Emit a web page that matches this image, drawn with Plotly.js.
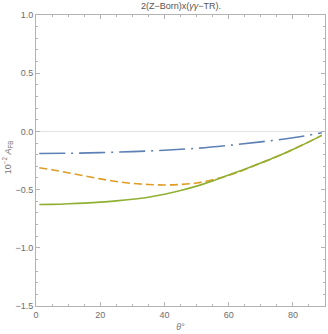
<!DOCTYPE html>
<html>
<head>
<meta charset="utf-8">
<script src="https://cdn.plot.ly/plotly-3.0.1.min.js"></script>
<style>
  html, body { margin: 0; padding: 0; background: #fff; }
  #chart { width: 328px; height: 334px; }
</style>
</head>
<body>
<div id="chart"></div>
<script>
// angle theta in degrees, values in units of 10^-2
const thetaGreen = [1, 5, 10, 15, 20, 25, 30, 35, 40, 45, 50, 55, 60, 65, 70, 75, 80, 85, 89];
const greenVals = [-0.628, -0.627, -0.622, -0.616, -0.608, -0.597, -0.583, -0.565, -0.540, -0.508,
                   -0.470, -0.425, -0.375, -0.325, -0.272, -0.216, -0.155, -0.090, -0.034];

const thetaOrange = [1, 5, 10, 15, 20, 25, 30, 35, 40, 45, 50, 55, 60, 63, 65, 70, 75, 80, 85, 89];
const orangeVals = [-0.312, -0.330, -0.355, -0.382, -0.408, -0.430, -0.447, -0.456, -0.460, -0.456,
                    -0.443, -0.415, -0.378, -0.350, -0.327, -0.272, -0.216, -0.155, -0.090, -0.034];

const thetaBlue = [1, 10, 20, 30, 40, 50, 60, 70, 80, 89];
const blueVals = [-0.190, -0.188, -0.182, -0.174, -0.162, -0.145, -0.120, -0.090, -0.055, -0.012];

const xTicks = [0, 20, 40, 60, 80];
const yTicks = [-1.5, -1.0, -0.5, 0.0, 0.5, 1.0];
const yTickText = ['\u22121.5', '\u22121.0', '\u22120.5', '0.0', '0.5', '1.0'];

const frameCol = '#b3b3b3';
const fontFam = 'Liberation Sans, Arial, sans-serif';
const labelFont = { family: fontFam, size: 9, color: '#6e6e6e' };

const traces = [
  { x: thetaBlue, y: blueVals, type: 'scatter', mode: 'lines', line: { color: '#5E81B5', width: 1.6, dash: '26px,6px,2px,6px', shape: 'spline' } },
  { x: thetaOrange, y: orangeVals, type: 'scatter', mode: 'lines', line: { color: '#E19C24', width: 1.6, dash: '8px,4px', shape: 'spline' } },
  { x: thetaGreen, y: greenVals, type: 'scatter', mode: 'lines', line: { color: '#8FB032', width: 1.6, shape: 'spline' } }
];

const axisCommon = {
  showgrid: false,
  showline: true,
  linecolor: frameCol,
  linewidth: 1,
  mirror: 'ticks',
  ticks: 'inside',
  ticklen: 4,
  tickcolor: frameCol,
  tickfont: labelFont
};

const layout = {
  width: 328,
  height: 334,
  margin: { l: 36, r: 3, t: 15, b: 28 },
  paper_bgcolor: '#fff',
  plot_bgcolor: '#fff',
  showlegend: false,
  title: {
    text: '2(Z\u2212Born)x(<i>\u03b3\u03b3</i>\u2212TR).',
    font: { family: fontFam, size: 9, color: '#555' },
    x: 0.552, xanchor: 'center', y: 0.992, yanchor: 'top'
  },
  xaxis: Object.assign({}, axisCommon, {
    range: [0, 90],
    tickvals: xTicks,
    zeroline: false,
    minor: { ticks: 'inside', ticklen: 2, tickcolor: frameCol, dtick: 5 },
    title: { text: '<i>\u03b8</i>\u00b0', font: { family: fontFam, size: 9, color: '#777' }, standoff: 4 }
  }),
  yaxis: Object.assign({}, axisCommon, {
    range: [-1.5, 1.0],
    tickvals: yTicks,
    ticktext: yTickText,
    zeroline: true,
    zerolinecolor: '#e2e2e2',
    zerolinewidth: 1,
    minor: { ticks: 'inside', ticklen: 2, tickcolor: frameCol, dtick: 0.1 }
  }),
  annotations: [{
    text: '10<sup>\u22122</sup> <i>A</i><sub>FB</sub>',
    xref: 'paper', yref: 'paper', x: -0.098, y: 0.51,
    xanchor: 'center', yanchor: 'middle', textangle: -90, showarrow: false,
    font: { family: fontFam, size: 9, color: '#777' }
  }]
};

Plotly.newPlot('chart', traces, layout, { staticPlot: true });
</script>
</body>
</html>
